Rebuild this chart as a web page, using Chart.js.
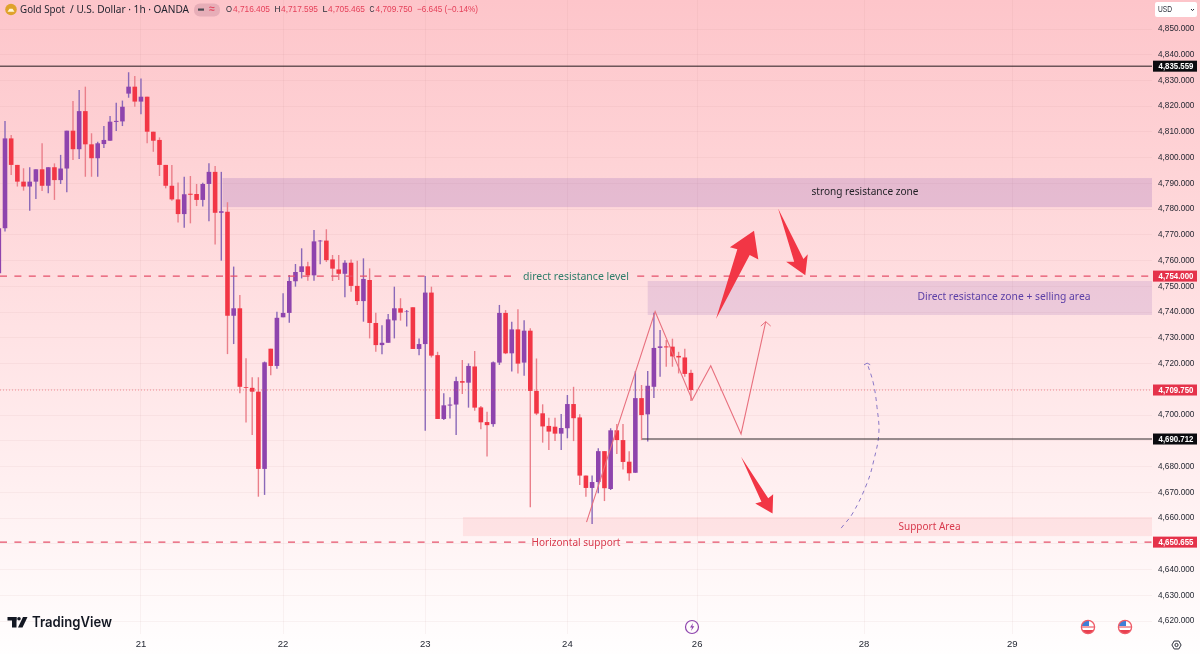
<!DOCTYPE html>
<html><head><meta charset="utf-8">
<style>html,body{margin:0;padding:0;background:#fff;overflow:hidden}canvas{display:block}</style>
<script src="https://cdn.jsdelivr.net/npm/chart.js@4"></script>
</head><body><canvas id="c" width="1200" height="654" style="width:1200px;height:654px"></canvas>
<script>
const opens=[4755.1,4772.6,4807.5,4797.2,4790.7,4788.8,4790.7,4795.5,4789.1,4796.3,4791.3,4795.8,4810.5,4803.3,4818.1,4805.2,4799.8,4805.3,4806.6,4813.9,4814.1,4824.9,4827.6,4821.8,4823.7,4810.1,4806.9,4797.2,4789.1,4783.8,4778.1,4786.0,4785.9,4783.6,4789.8,4794.5,4778.6,4779.0,4738.6,4741.5,4710.9,4710.6,4709.1,4679.1,4725.8,4719.1,4738.0,4739.7,4752.0,4755.6,4757.8,4754.3,4767.5,4767.8,4760.5,4756.6,4754.9,4759.2,4750.2,4744.3,4752.5,4735.8,4727.2,4728.1,4736.8,4741.5,4740.2,4741.9,4725.7,4727.6,4747.6,4723.3,4698.5,4703.7,4704.1,4713.2,4712.6,4718.9,4703.0,4697.3,4696.5,4720.4,4739.7,4724.0,4733.3,4720.4,4732.8,4709.4,4700.7,4695.8,4695.5,4692.8,4694.9,4704.3,4699.1,4676.5,4671.7,4674.0,4686.0,4671.3,4694.1,4690.3,4681.9,4677.6,4706.6,4700.3,4711.0,4726.1,4726.7,4726.6,4723.0,4722.4,4716.405];
const closes=[4772.6,4807.5,4797.2,4790.7,4788.8,4790.7,4795.5,4789.1,4796.3,4791.3,4795.8,4810.5,4803.3,4818.1,4805.2,4799.8,4805.6,4806.9,4814.0,4814.3,4819.8,4827.6,4821.8,4823.7,4810.1,4806.6,4797.2,4789.1,4783.8,4778.1,4785.8,4785.6,4783.6,4789.8,4794.5,4778.6,4779.2,4738.6,4741.5,4711.0,4710.6,4709.1,4679.1,4720.5,4719.1,4737.8,4739.7,4752.1,4755.6,4757.8,4754.3,4767.5,4767.8,4760.2,4756.9,4754.9,4759.2,4750.2,4744.3,4752.9,4735.8,4727.2,4728.1,4737.2,4741.5,4739.8,4740.4,4725.7,4727.6,4747.6,4723.1,4698.5,4703.8,4704.1,4713.2,4712.6,4719.1,4702.9,4697.2,4696.1,4720.5,4739.7,4724.0,4733.3,4720.0,4732.8,4709.4,4700.6,4695.6,4693.6,4692.8,4695.0,4704.3,4698.8,4676.5,4671.7,4674.0,4686.0,4671.6,4694.1,4690.3,4681.8,4677.4,4706.6,4700.0,4711.4,4726.1,4726.7,4726.3,4722.8,4722.4,4716.0,4709.75];
const highs=[4773.0,4814.3,4808.8,4797.2,4795.9,4796.3,4795.5,4805.6,4796.3,4797.8,4801.1,4810.5,4822.0,4826.3,4827.6,4809.5,4806.2,4812.3,4816.2,4821.4,4822.2,4833.2,4831.7,4830.8,4823.7,4810.1,4807.9,4797.2,4797.2,4790.4,4792.6,4792.9,4789.8,4790.3,4797.8,4796.8,4794.5,4782.7,4757.7,4746.7,4722.1,4714.7,4714.7,4720.8,4725.8,4740.2,4747.3,4754.4,4758.7,4764.8,4759.6,4771.9,4768.0,4772.2,4762.2,4762.2,4760.2,4760.5,4760.0,4760.9,4757.0,4739.8,4734.9,4739.3,4749.9,4745.4,4740.8,4741.9,4729.8,4754.0,4749.9,4724.6,4708.5,4706.9,4714.9,4721.4,4720.1,4724.9,4703.5,4701.3,4720.8,4742.8,4740.8,4736.3,4741.1,4736.9,4733.7,4722.0,4704.2,4699.0,4699.0,4700.4,4707.8,4711.0,4700.3,4676.5,4676.5,4687.1,4686.0,4694.9,4696.5,4696.5,4686.0,4717.1,4711.7,4717.1,4739.8,4733.1,4729.2,4729.7,4724.6,4725.8,4717.595];
const lows=[4754.5,4771.3,4793.3,4788.8,4787.2,4779.4,4784.0,4787.1,4786.2,4783.6,4789.8,4786.6,4799.1,4799.5,4792.6,4792.6,4792.6,4803.8,4806.6,4810.4,4812.3,4823.3,4819.8,4816.9,4805.6,4802.3,4792.9,4788.1,4783.3,4774.8,4772.8,4774.5,4781.2,4781.0,4775.3,4766.3,4760.0,4723.7,4727.6,4708.5,4697.1,4692.3,4668.3,4669.0,4715.5,4718.0,4738.0,4735.9,4749.9,4753.1,4752.2,4752.2,4758.6,4759.5,4752.1,4752.5,4745.8,4747.9,4742.8,4736.3,4729.8,4724.6,4723.6,4728.1,4729.8,4736.7,4734.4,4725.7,4723.3,4693.9,4722.4,4698.5,4698.1,4698.7,4692.3,4708.2,4702.9,4701.7,4694.5,4683.9,4695.5,4719.5,4723.7,4716.9,4716.2,4715.3,4664.2,4700.0,4689.3,4686.4,4689.9,4686.4,4691.0,4689.9,4672.8,4668.3,4657.7,4669.6,4666.6,4670.9,4684.9,4678.9,4674.5,4677.6,4690.3,4689.7,4706.6,4714.9,4718.8,4718.8,4716.2,4714.9,4705.465];

const priceTicks=[4620,4630,4640,4650,4660,4670,4680,4690,4700,4710,4720,4730,4740,4750,4760,4770,4780,4790,4800,4810,4820,4830,4840,4850];
const dayTickIndex=[23,46,69,92,113,140,164];
const dayTickLabels=['21','22','23','24','26','28','29'];

const priceLevelHigh=4835.559, priceLevelRes=4754.000, priceLevelLast=4709.750, priceLevelMid=4690.712, priceLevelSup=4650.655;

const zoneStrong={from:36.2,to:187,top:4792.1,bottom:4780.8};
const zoneDirect={from:105,to:187,top:4752.1,bottom:4738.9};
const zoneSupport={from:75.1,to:187,top:4660.4,bottom:4653.0};

const zigzagPath=[[95.1,4658.4],[106.2,4740.2],[112.2,4705.9],[115.2,4719.2],[120.1,4692.7],[124.1,4736.3]];
const zigzagHead=[[123.3,4734.6],[124.1,4736.3],[124.9,4734.6]];
const arcPath=[[136.3,4656.1],[138.2,4662.0],[140.5,4673.6],[141.6,4682.6],[142.4,4693.0],[142.1,4703.1],[141.5,4712.5],[140.5,4720.2]];
const arcHead=[[140.0,4719.5],[140.5,4720.2],[141.0,4719.6]];
const arrowUp=[[116.05,4737.3],[119.5,4764.4],[118.3,4765.2],[122.2,4771.6],[122.9,4760.5],[121.5,4762.2]];
const arrowDownA=[[126.1,4780.3],[130.2,4760.6],[130.9,4762.5],[130.5,4754.3],[127.4,4759.6],[128.7,4759.6]];
const arrowDownB=[[120.1,4683.8],[124.5,4667.7],[125.3,4669.3],[125.2,4661.8],[122.4,4665.7],[123.4,4666.3]];

const RED='#f23645',PURPLE='#8e44ad';
const REDW='#ea7f8a',PURW='#8a68b8';
const xMin=0.19,xMax=186.6,yMin=4614.96,yMax=4861.27;
const sans='"Liberation Sans",sans-serif';
const noto='"Noto Sans",sans-serif';

const up=i=>closes[i]>=opens[i];
const toXY=a=>a.map(p=>({x:p[0],y:p[1]}));
const thin=(pts,color,w,extra)=>Object.assign({type:'line',data:toXY(pts),borderColor:color,borderWidth:w,pointRadius:0,order:1,tension:0},extra||{});

const overlays={
 id:'overlays',
 beforeDraw(ch){
  const c=ch.ctx,g=c.createLinearGradient(0,0,0,654);
  g.addColorStop(0,'#fdc5ca');g.addColorStop(.25,'#fed3d6');g.addColorStop(.5,'#ffe2e4');g.addColorStop(.75,'#fff0f1');g.addColorStop(1,'#fffefe');
  c.fillStyle=g;c.fillRect(0,0,1200,654);
 },
 beforeDatasetsDraw(ch){
  const c=ch.ctx,X=ch.scales.x,Y=ch.scales.y;
  const z=(o,col)=>{const x0=X.getPixelForValue(o.from),x1=X.getPixelForValue(o.to),y0=Y.getPixelForValue(o.top),y1=Y.getPixelForValue(o.bottom);c.fillStyle=col;c.fillRect(x0,y0,Math.min(x1,1152)-x0,y1-y0)};
  z(zoneStrong,'rgba(142,90,180,.22)');
  z(zoneDirect,'rgba(142,90,180,.17)');
  z(zoneSupport,'rgba(242,54,69,.09)');
 },
 afterDatasetsDraw(ch){
  const c=ch.ctx,X=ch.scales.x,Y=ch.scales.y;
  [arrowUp,arrowDownA,arrowDownB].forEach(a=>{c.beginPath();a.forEach((p,i)=>{const x=X.getPixelForValue(p[0]),y=Y.getPixelForValue(p[1]);i?c.lineTo(x,y):c.moveTo(x,y)});c.closePath();c.fillStyle=RED;c.fill()});
  c.textBaseline='middle';
  const t=(s,x,y,font,col,align,mw)=>{c.font=font;c.fillStyle=col;c.textAlign=align||'left';mw?c.fillText(s,x,y,mw):c.fillText(s,x,y)};
  const annot='10.5px '+noto;
  t('strong resistance zone',865,192,annot,'#1f1f24','center',107);
  t('Direct resistance zone + selling area',1004,297.5,annot,'#5b3fa6','center',173);
  t('Support Area',929.5,527,annot,'#d8394c','center',62);
  t('direct resistance level',576,277,annot,'#2e7d6a','center',106);
  t('Horizontal support',576,543.5,annot,'#d8394c','center',89);
  // price tags on the axis
  const tag=(v,bg)=>{const y=Y.getPixelForValue(v);c.fillStyle=bg;c.fillRect(1153,y-5.5,44,11);
    t(v.toLocaleString('en-US',{minimumFractionDigits:3,maximumFractionDigits:3}),1158.5,y+.3,'bold 9px '+sans,'#fff','left',35)};
  tag(priceLevelHigh,'#0b0b0f');tag(priceLevelRes,'#e5324a');tag(priceLevelLast,'#e5324a');tag(priceLevelMid,'#0b0b0f');tag(priceLevelSup,'#e5324a');
  // USD button
  c.fillStyle='#fff';c.beginPath();c.roundRect(1155,2,42,15,2);c.fill();
  t('USD',1158,10,'8.5px '+sans,'#2a2e39','left',14);
  c.strokeStyle='#2a2e39';c.lineWidth=1;c.beginPath();c.moveTo(1191,9);c.lineTo(1192.5,10.6);c.lineTo(1194,9);c.stroke();
  // header
  c.fillStyle='#dfa22c';c.beginPath();c.arc(11,9.5,5.8,0,7);c.fill();
  c.fillStyle='#fff6d8';c.beginPath();c.moveTo(7.5,11.8);c.lineTo(9.5,8.8);c.lineTo(12.5,8.8);c.lineTo(14.5,11.8);c.closePath();c.fill();
  t('Gold Spot',20,10,'10.5px '+noto,'#1e222d','left',45);
  t('/ U.S. Dollar · 1h · OANDA',70,10,'10.5px '+noto,'#1e222d','left',119);
  c.fillStyle='rgba(190,130,150,.35)';c.beginPath();c.roundRect(194,3.5,26,13,6);c.fill();
  c.fillStyle='#4a4a52';c.fillRect(198,8.5,6,2.2);
  t('≈',212,9.5,'bold 10px '+noto,'#e2405a','center');
  const red='#e5415a',dk='#2a2e39',f='9px '+sans;
  t('O',226,10,f,dk,'left',6);t('4,716.405',233,10,f,red,'left',37);
  t('H',274.5,10,f,dk,'left',6);t('4,717.595',281,10,f,red,'left',37);
  t('L',322.5,10,f,dk,'left',5);t('4,705.465',328,10,f,red,'left',37);
  t('C',369.5,10,f,dk,'left',5);t('4,709.750',375.5,10,f,red,'left',37);
  t('−6.645 (−0.14%)',417,10,f,red,'left',61);
  // TradingView mark
  c.fillStyle='#131722';
  c.fillRect(7.5,617,9,3.5);c.fillRect(12,617,4.5,10.5);
  c.beginPath();c.arc(19,618.8,1.8,0,7);c.fill();
  c.beginPath();c.moveTo(23,617);c.lineTo(27.5,617);c.lineTo(22.5,627.5);c.lineTo(18,627.5);c.closePath();c.fill();
  t('TradingView',32,622.3,'600 14.5px Inter,'+noto,'#131722','left',80);
  // event marks
  c.strokeStyle='#8e44ad';c.lineWidth=1.2;c.beginPath();c.arc(692,627,6.5,0,7);c.stroke();
  c.fillStyle='#8e44ad';c.beginPath();c.moveTo(693,623);c.lineTo(690,627.6);c.lineTo(692,627.6);c.lineTo(691,631);c.lineTo(694.3,626.2);c.lineTo(692.3,626.2);c.closePath();c.fill();
  [1088,1125].forEach(x=>{const y=627;
   c.save();c.beginPath();c.arc(x,y,6.5,0,7);c.clip();
   c.fillStyle='#fff';c.fillRect(x-7,y-7,14,14);
   c.fillStyle='#e8404f';c.fillRect(x-7,y+3,14,4);c.fillRect(x-7,y-.5,14,1);
   c.fillStyle='#3f7fd8';c.fillRect(x-7,y-7,8,6);
   c.restore();
   c.strokeStyle='#ef5b67';c.lineWidth=1.3;c.beginPath();c.arc(x,y,6.6,0,7);c.stroke();});
  // settings gear
  c.strokeStyle='#2a2e39';c.lineWidth=1;c.beginPath();
  for(let k=0;k<6;k++){const a=k*Math.PI/3,x=1176.5+4.6*Math.cos(a),y=645+4.6*Math.sin(a);k?c.lineTo(x,y):c.moveTo(x,y)}
  c.closePath();c.stroke();c.beginPath();c.arc(1176.5,645,1.6,0,7);c.stroke();
 }
};
const noPad=s=>{s.paddingTop=0;s.paddingBottom=0;s.paddingLeft=0;s.paddingRight=0};

new Chart(document.getElementById('c'),{
 type:'bar',
 data:{datasets:[
  thin([[xMin,priceLevelHigh],[xMax,priceLevelHigh]],'#241a1e',1),
  thin([[xMin,priceLevelLast],[xMax,priceLevelLast]],'rgba(229,80,95,.6)',1,{borderDash:[1,2]}),
  thin([[104.1,priceLevelMid],[xMax,priceLevelMid]],'#302a2d',1),
  thin([[xMin,priceLevelRes],[83.9,priceLevelRes]],'#e5506a',1.4,{borderDash:[7,7.4]}),
  thin([[103.3,priceLevelRes],[xMax,priceLevelRes]],'#e5506a',1.4,{borderDash:[7,7.4]}),
  thin([[xMin,priceLevelSup],[85.6,priceLevelSup]],'#e5506a',1.4,{borderDash:[7,7.4]}),
  thin([[101.5,priceLevelSup],[xMax,priceLevelSup]],'#e5506a',1.4,{borderDash:[7,7.4]}),
  thin(zigzagPath,'#e8707e',1.1),
  thin(zigzagHead,'#e8707e',1),
  thin(arcPath,'#8a78c8',1,{borderDash:[4,4],tension:.4}),
  thin(arcHead,'#8a78c8',1),
  {type:'bar',order:2,grouped:false,barThickness:4.6,inflateAmount:0,borderWidth:0,
   data:opens.map((o,i)=>({x:i,y:[Math.min(o,closes[i]),Math.max(o,closes[i])]})),
   backgroundColor:opens.map((o,i)=>up(i)?PURPLE:RED)},
  {type:'bar',order:3,grouped:false,barThickness:1.4,inflateAmount:0,borderWidth:0,
   data:highs.map((h,i)=>({x:i,y:[lows[i],h]})),
   backgroundColor:opens.map((o,i)=>up(i)?PURW:REDW)}
 ]},
 options:{
  responsive:false,animation:false,devicePixelRatio:1,
  layout:{padding:0},
  plugins:{legend:{display:false},tooltip:{enabled:false}},
  scales:{
   x:{type:'linear',offset:false,min:xMin,max:xMax,position:'bottom',
    border:{display:false},
    grid:{offset:false,color:'rgba(170,110,120,.07)',drawTicks:false,lineWidth:1},
    afterBuildTicks(s){s.ticks=dayTickIndex.map(v=>({value:v}))},
    afterFit(s){s.height=20;noPad(s)},
    ticks:{autoSkip:false,maxRotation:0,padding:5,color:'#1e222d',font:{family:'"Liberation Sans",sans-serif',size:9.5},
     callback(v){return dayTickLabels[dayTickIndex.indexOf(v)]}}},
   y:{type:'linear',position:'right',min:yMin,max:yMax,
    border:{display:false},
    grid:{color:'rgba(170,110,120,.07)',drawTicks:false,lineWidth:1},
    afterBuildTicks(s){s.ticks=priceTicks.map(v=>({value:v}))},
    afterFit(s){s.width=48;noPad(s)},
    ticks:{autoSkip:false,padding:6,color:'#1e222d',font:{family:'"Liberation Sans",sans-serif',size:8.2},
     callback(v){return v.toLocaleString('en-US',{minimumFractionDigits:3,maximumFractionDigits:3})}}}
  }
 },
 plugins:[overlays]
});
</script></body></html>
